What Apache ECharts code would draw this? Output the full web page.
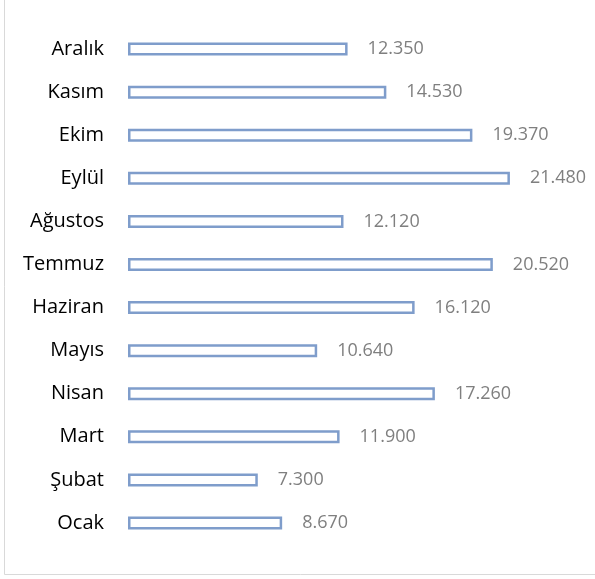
<!DOCTYPE html>
<html>
<head>
<meta charset="utf-8">
<script src="https://cdn.jsdelivr.net/npm/echarts@6/dist/echarts.min.js"></script>
<style>
  html, body { margin: 0; padding: 0; background: #fff; }
  #chart { width: 595px; height: 579px; }
</style>
</head>
<body>
<div id="chart"></div>
<script>
// aylar (alttan üste)
var months = ['Ocak', 'Şubat', 'Mart', 'Nisan', 'Mayıs', 'Haziran', 'Temmuz', 'Ağustos', 'Eylül', 'Ekim', 'Kasım', 'Aralık'];
var values = [8670, 7300, 11900, 17260, 10640, 16120, 20520, 12120, 21480, 19370, 14530, 12350];

function fmt(v) {
  return String(v).replace(/\B(?=(\d{3})+(?!\d))/g, '.');
}

var chart = echarts.init(document.getElementById('chart'));
var option = {
  animation: false,
  textStyle: { fontFamily: 'Open Sans' },
  graphic: [{
    type: 'rect',
    shape: { x: 4.5, y: -2, width: 600, height: 576.5 },
    style: { fill: 'none', stroke: '#d9d9d9', lineWidth: 1 },
    silent: true
  }],
  grid: { left: 128, right: 22.5, top: 27.5, bottom: 34.5 },
  xAxis: {
    type: 'value',
    min: 0,
    max: 25000,
    show: false
  },
  yAxis: {
    type: 'category',
    data: months,
    axisLine: { show: false },
    axisTick: { show: false },
    axisLabel: { color: '#000', fontSize: 20, margin: 24 }
  },
  series: [{
    type: 'bar',
    data: values,
    barWidth: 13,
    itemStyle: { color: '#fff', borderColor: '#7f9dcb', borderWidth: 2.5 },
    label: {
      show: true,
      position: 'right',
      distance: 20,
      color: '#7f7f7f',
      fontSize: 18,
      formatter: function (p) { return fmt(p.value); }
    }
  }]
};
chart.setOption(option);
</script>
</body>
</html>
